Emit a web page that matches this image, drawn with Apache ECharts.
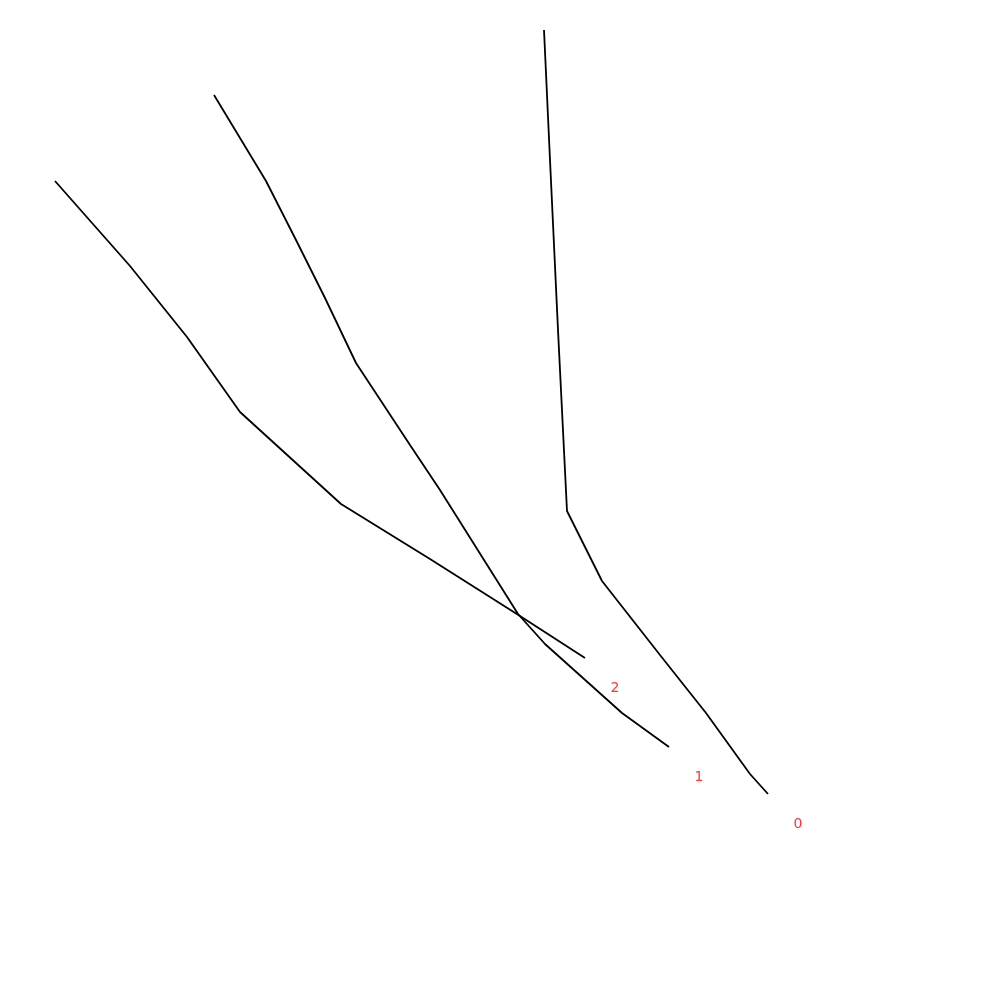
<!DOCTYPE html>
<html>
<head>
<meta charset="utf-8">
<script src="https://cdn.jsdelivr.net/npm/echarts@6/dist/echarts.min.js"></script>
<style>html,body{margin:0;padding:0;background:#fff}#c{width:1000px;height:1000px}</style>
</head>
<body>
<div id="c"></div>
<script>
// Series paths, as [x, y] (y grows downward)
const seriesNames = ['0', '1', '2'];
const path0 = [[544,30],[550,160],[558,330],[567,511],[602,581],[660,655],[706,713],[750,774],[768,794]];
const path1 = [[214,95],[240,138],[266,181],[296,240],[325,298],[356,363],[410,445],[440,490],[518,614],[545,644],[622,713],[669,747]];
const path2 = [[55,181],[130,266],[187,337],[240,412],[341,504],[430,559],[520,616],[585,658]];
const paths = [path0, path1, path2];

const chart = echarts.init(document.getElementById('c'));
const lineSeries = paths.map((p, i) => ({
  type: 'line',
  name: seriesNames[i],
  data: p,
  symbol: 'none',
  silent: true,
  lineStyle: { color: '#000', width: 1.8 },
  animation: false
}));
const labelSeries = {
  type: 'scatter',
  data: paths.map((p, i) => ({ value: p[p.length - 1], name: seriesNames[i] })),
  symbolSize: 0,
  silent: true,
  animation: false,
  label: {
    show: true,
    position: 'inside',
    offset: [30, 30],
    formatter: (d) => d.name,
    color: '#ff0000',
    fontSize: 14,
    fontFamily: 'DejaVu Sans'
  }
};
chart.setOption({
  animation: false,
  grid: { left: 0, right: 0, top: 0, bottom: 0 },
  xAxis: { type: 'value', min: 0, max: 1000, show: false },
  yAxis: { type: 'value', min: 0, max: 1000, inverse: true, show: false },
  series: [...lineSeries, labelSeries]
});
</script>
</body>
</html>
